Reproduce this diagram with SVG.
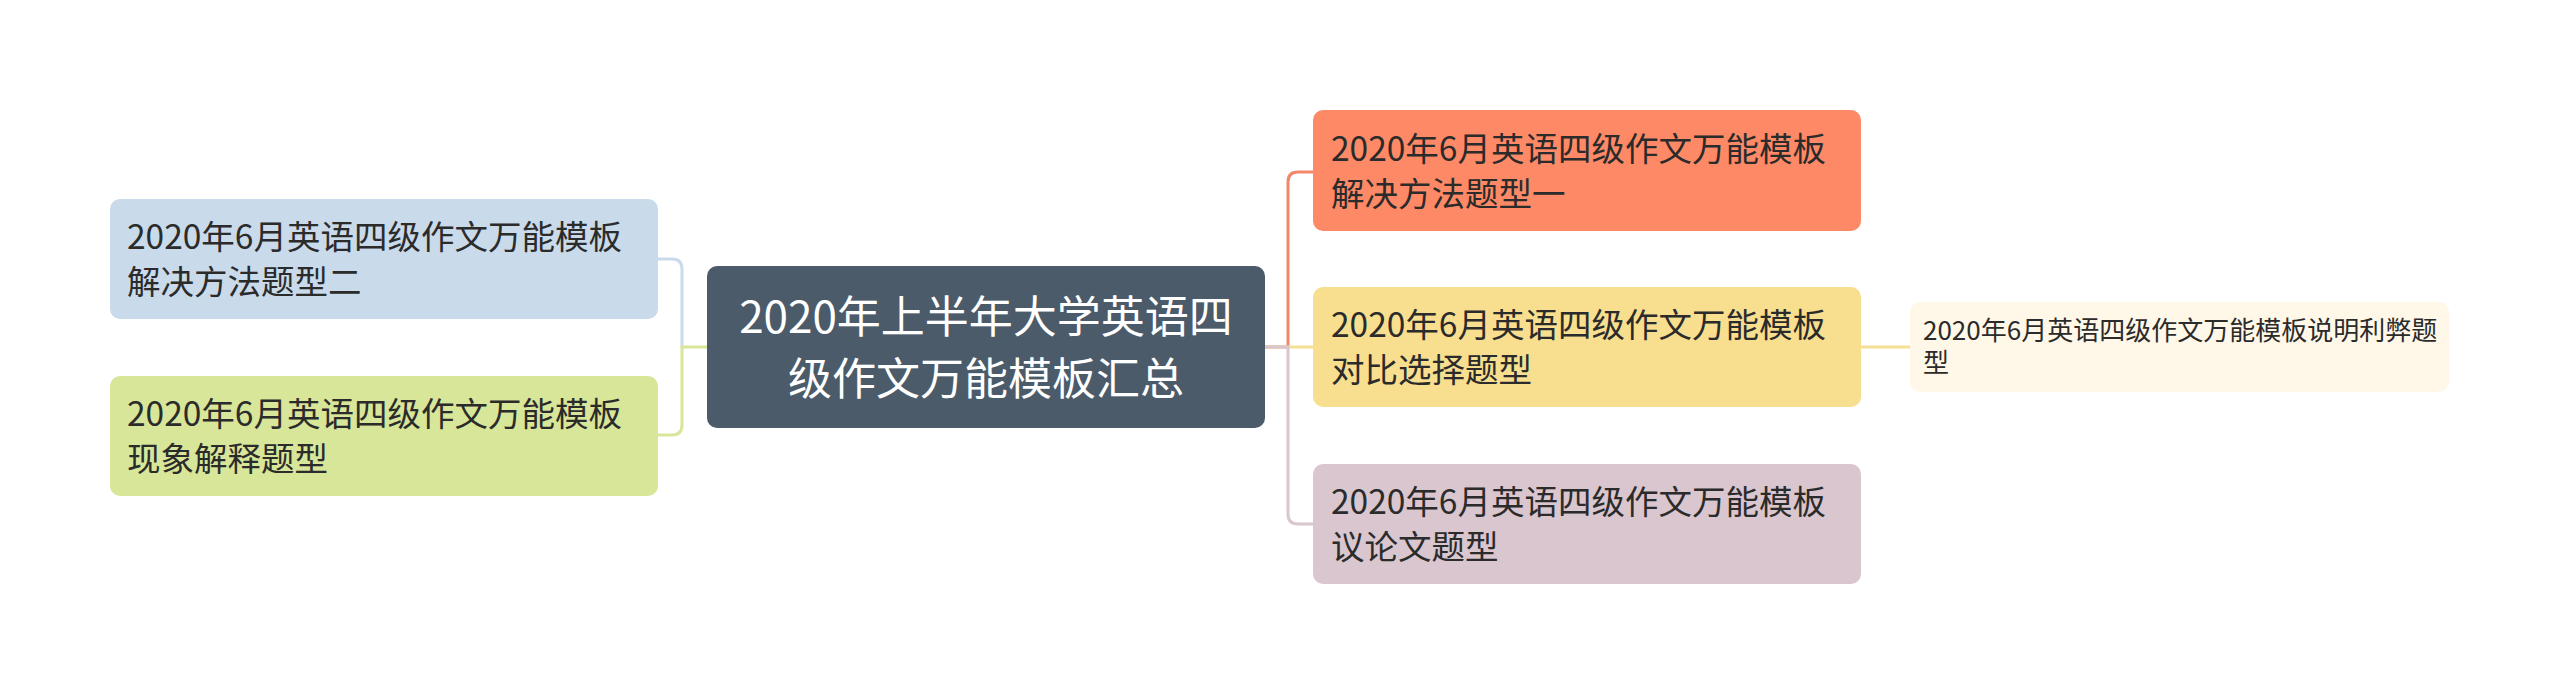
<svg xmlns="http://www.w3.org/2000/svg" width="2560" height="695" viewBox="0 0 2560 695">
<style>
.t{font-family:"Noto Sans CJK SC","Noto Sans",sans-serif;fill:#2b2b2b;font-size:33.5px}
.c{font-family:"Noto Sans CJK SC","Noto Sans",sans-serif;fill:#ffffff;font-size:44px}
.l{font-family:"Noto Sans CJK SC","Noto Sans",sans-serif;fill:#2b2b2b;font-size:26px}
.e{fill:none;stroke-width:3}
</style>
<rect width="2560" height="695" fill="#ffffff"/>
<g id="connectors">
<path class="e" stroke="#c9daea" d="M682,347 V269 Q682,259 672,259 H658"/>
<path class="e" stroke="#d7e699" d="M707,347 H682 V425 Q682,435 672,435 H658"/>
<path class="e" stroke="#f4876a" d="M1265,347 H1288 V182 Q1288,172 1298,172 H1313"/>
<path class="e" stroke="#f5df93" d="M1265,347 H1313"/>
<path class="e" stroke="#d9c6ce" d="M1265,347 H1288 V514 Q1288,524 1298,524 H1313"/>
<path class="e" stroke="#f5df93" d="M1861,347 H1910"/>
</g>
<g id="center">
<rect x="707" y="266" width="558" height="162" rx="10" fill="#4b5b6a"/>
<text class="c" x="986" y="333" text-anchor="middle">2020年上半年大学英语四</text>
<text class="c" x="986" y="395" text-anchor="middle">级作文万能模板汇总</text>
</g>
<g id="left1">
<rect x="110" y="199" width="548" height="120" rx="10" fill="#c9daea"/>
<text class="t" x="127" y="249">2020年6月英语四级作文万能模板</text>
<text class="t" x="127" y="294">解决方法题型二</text>
</g>
<g id="left2">
<rect x="110" y="376" width="548" height="120" rx="10" fill="#d7e699"/>
<text class="t" x="127" y="426">2020年6月英语四级作文万能模板</text>
<text class="t" x="127" y="471">现象解释题型</text>
</g>
<g id="right1">
<rect x="1313" y="110" width="548" height="121" rx="10" fill="#fe8966"/>
<text class="t" x="1331" y="161">2020年6月英语四级作文万能模板</text>
<text class="t" x="1331" y="206">解决方法题型一</text>
</g>
<g id="right2">
<rect x="1313" y="287" width="548" height="120" rx="10" fill="#f8df8f"/>
<text class="t" x="1331" y="337">2020年6月英语四级作文万能模板</text>
<text class="t" x="1331" y="382">对比选择题型</text>
</g>
<g id="right3">
<rect x="1313" y="464" width="548" height="120" rx="10" fill="#d9c6ce"/>
<text class="t" x="1331" y="514">2020年6月英语四级作文万能模板</text>
<text class="t" x="1331" y="559">议论文题型</text>
</g>
<g id="leaf">
<rect x="1910" y="302" width="539" height="90" rx="10" fill="#fff8e8"/>
<text class="l" x="1923" y="340">2020年6月英语四级作文万能模板说明利弊题</text>
<text class="l" x="1923" y="372">型</text>
</g>
</svg>
